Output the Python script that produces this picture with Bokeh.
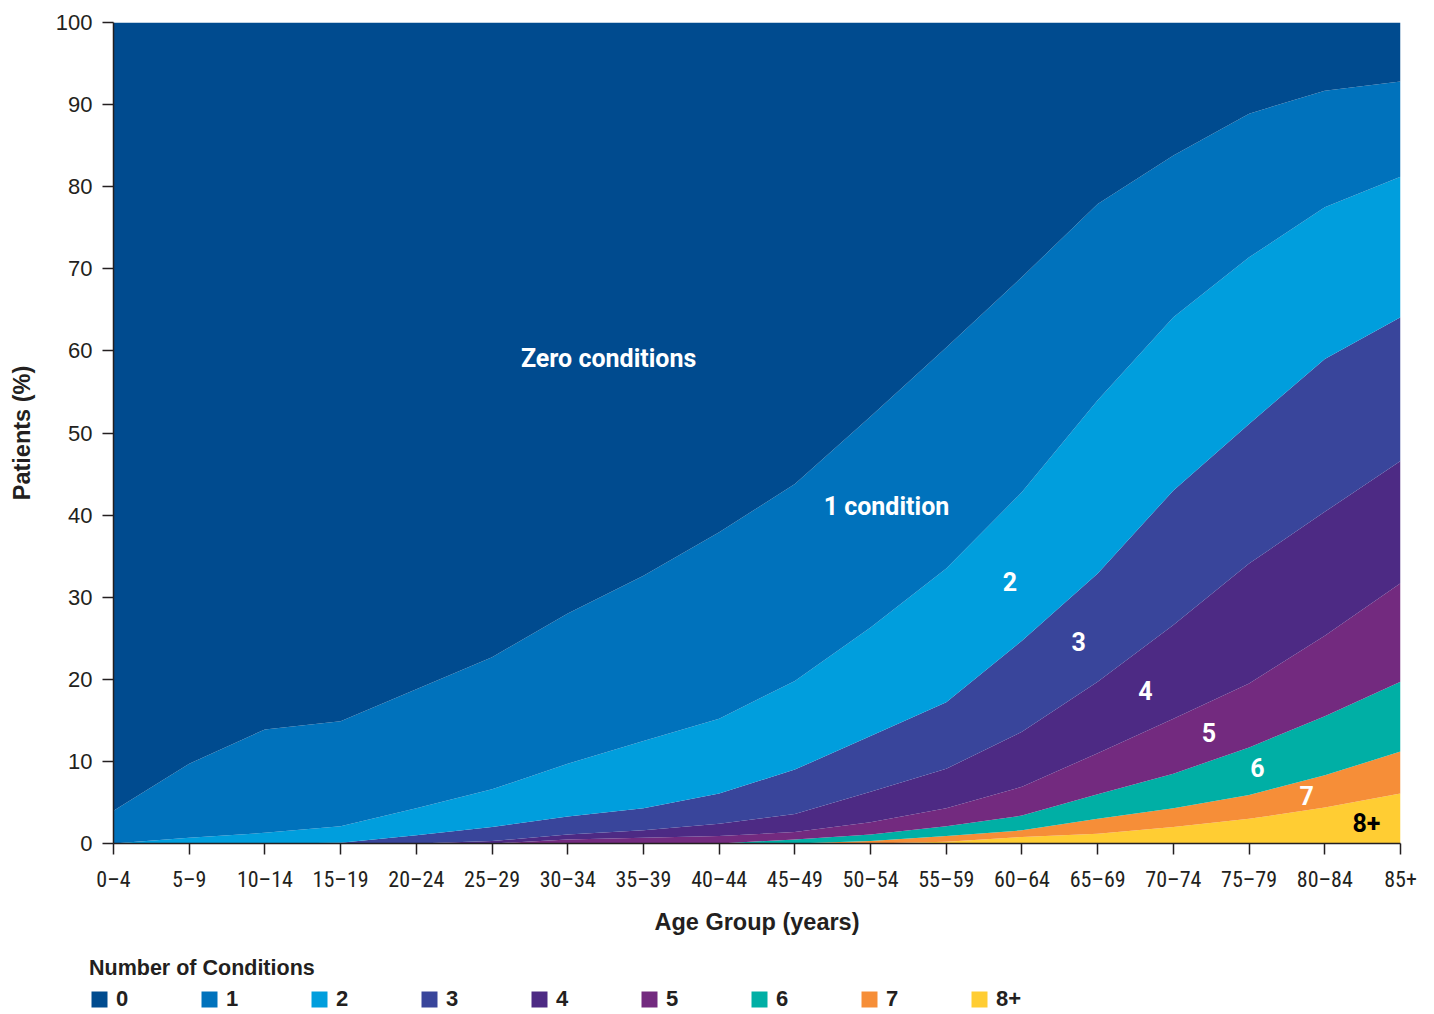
from bokeh.plotting import figure
from bokeh.models import ColumnDataSource, Legend, LegendItem, FixedTicker
from bokeh.core.properties import value
from bokeh.embed import file_html
from bokeh.resources import INLINE

# ---------------- data ----------------
age_groups = ["0–4", "5–9", "10–14", "15–19", "20–24", "25–29", "30–34", "35–39",
              "40–44", "45–49", "50–54", "55–59", "60–64", "65–69", "70–74",
              "75–79", "80–84", "85+"]

# share of patients (%) with each number of conditions, per age group
cond_0 = [96.0, 90.3, 86.1, 85.1, 81.2, 77.3, 72.0, 67.4, 62.1, 56.2, 48.0, 39.6, 31.0, 22.1, 16.2, 11.1, 8.3, 7.2]
cond_1 = [4.0, 9.0, 12.6, 12.8, 14.5, 16.1, 18.3, 20.1, 22.7, 24.0, 25.7, 26.9, 26.2, 23.9, 19.7, 17.5, 14.2, 11.6]
cond_2 = [0.0, 0.7, 1.3, 2.0, 3.3, 4.6, 6.4, 8.2, 9.1, 10.8, 13.2, 16.3, 18.1, 21.1, 21.1, 20.3, 18.5, 17.1]
cond_3 = [0.0, 0.0, 0.0, 0.1, 1.0, 1.7, 2.2, 2.7, 3.7, 5.4, 6.8, 8.1, 11.1, 13.2, 16.4, 17.0, 18.6, 17.5]
cond_4 = [0.0, 0.0, 0.0, 0.0, 0.0, 0.3, 0.6, 0.9, 1.5, 2.2, 3.7, 4.8, 6.7, 8.7, 11.4, 14.6, 15.1, 14.9]
cond_5 = [0.0, 0.0, 0.0, 0.0, 0.0, 0.0, 0.5, 0.7, 0.9, 0.9, 1.5, 2.2, 3.5, 5.0, 6.7, 7.8, 9.8, 12.0]
cond_6 = [0.0, 0.0, 0.0, 0.0, 0.0, 0.0, 0.0, 0.0, 0.0, 0.5, 0.8, 1.2, 1.8, 3.0, 4.2, 5.8, 7.2, 8.5]
cond_7 = [0.0, 0.0, 0.0, 0.0, 0.0, 0.0, 0.0, 0.0, 0.0, 0.0, 0.3, 0.7, 0.8, 1.8, 2.3, 2.9, 3.9, 5.1]
cond_8p = [0.0, 0.0, 0.0, 0.0, 0.0, 0.0, 0.0, 0.0, 0.0, 0.0, 0.0, 0.2, 0.8, 1.2, 2.0, 3.0, 4.4, 6.1]

series_names = ["0", "1", "2", "3", "4", "5", "6", "7", "8+"]
series_values = [cond_0, cond_1, cond_2, cond_3, cond_4, cond_5, cond_6, cond_7, cond_8p]
colors = ["#004b8f", "#0072bc", "#009edd", "#39459b", "#4d2a84",
          "#732a7f", "#00afa5", "#f68e38", "#ffcd33"]

y_ticks = [0, 10, 20, 30, 40, 50, 60, 70, 80, 90, 100]

# in-chart labels
label_text = ["Zero conditions", "1 condition", "2", "3", "4", "5", "6", "7", "8+"]
label_x = [6.54, 10.21, 11.84, 12.75, 13.63, 14.47, 15.11, 15.76, 16.55]
label_y = [59.1, 41.0, 31.9, 24.6, 18.6, 13.5, 9.3, 5.85, 2.6]
label_color = ["white"] * 8 + ["black"]

# ---------------- plot ----------------
FONT = "'Liberation Sans', Arial, sans-serif"
NARROW = "'Liberation Sans Narrow', 'Roboto Condensed', 'DejaVu Sans Condensed', 'Liberation Sans'"
INK = "#231f20"

data = {"x": list(range(len(age_groups)))}
keys = []
for name, vals in zip(series_names, series_values):
    k = "c" + name.replace("+", "p")
    data[k] = vals
    keys.append(k)
src = ColumnDataSource(data)
stack_keys = keys[::-1]
stack_colors = colors[::-1]

p = figure(width=1426, height=938, x_range=(0, 17), y_range=(0, 100),
           output_backend="svg", toolbar_location=None,
           min_border_left=113, min_border_right=26, min_border_top=22,
           min_border_bottom=95)
p.grid.visible = False
p.outline_line_color = None

p.varea_stack(stackers=stack_keys, x="x", color=stack_colors, source=src)

lsrc = ColumnDataSource(dict(x=label_x, y=label_y, text=label_text, color=label_color))
p.text(x="x", y="y", text="text", text_color="color", source=lsrc,
       text_font=value("Roboto"), text_font_style="bold", text_font_size="25px",
       text_align="center", text_baseline="middle")

# axes
xa = p.xaxis[0]
xa.ticker = FixedTicker(ticks=list(range(len(age_groups))))
xa.major_label_overrides = {i: lab for i, lab in enumerate(age_groups)}
xa.major_label_text_font = NARROW
xa.major_label_text_font_size = "22px"
xa.major_label_text_color = INK
xa.major_label_standoff = 12
xa.major_tick_in = 0
xa.major_tick_out = 11
xa.minor_tick_line_color = None
xa.axis_line_color = INK
xa.axis_line_width = 1.5
xa.major_tick_line_color = INK
xa.major_tick_line_width = 1.5
xa.axis_label = "Age Group (years)"
xa.axis_label_text_font = FONT
xa.axis_label_text_font_style = "bold"
xa.axis_label_text_font_size = "23.5px"
xa.axis_label_text_color = INK
xa.axis_label_standoff = 14

ya = p.yaxis[0]
ya.ticker = FixedTicker(ticks=y_ticks)
ya.major_label_text_font = FONT
ya.major_label_text_font_size = "22px"
ya.major_label_text_color = INK
ya.major_label_standoff = 10
ya.major_tick_in = 0
ya.major_tick_out = 11
ya.minor_tick_line_color = None
ya.axis_line_color = INK
ya.axis_line_width = 1.5
ya.major_tick_line_color = INK
ya.major_tick_line_width = 1.5
ya.axis_label = "Patients (%)"
ya.axis_label_text_font = FONT
ya.axis_label_text_font_style = "bold"
ya.axis_label_text_font_size = "23.5px"
ya.axis_label_text_color = INK
ya.axis_label_standoff = 18

# legend (separate strip below the chart); the areas here fall outside its
# visible range and only serve as legend swatches
p2 = figure(width=1426, height=76, x_range=(0, 17), y_range=(-2, -1),
            output_backend="svg", toolbar_location=None, min_border=0)
p2.axis.visible = False
p2.grid.visible = False
p2.outline_line_color = None
proxy = p2.varea_stack(stackers=stack_keys, x="x", color=stack_colors, source=src)
proxy_by_key = dict(zip(stack_keys, proxy))
items = [LegendItem(label=name, renderers=[proxy_by_key[k]])
         for name, k in zip(series_names, keys)]
legend = Legend(items=items, orientation="horizontal", location=(89, 2),
                title="Number of Conditions")
legend.title_text_font = FONT
legend.title_text_font_style = "bold"
legend.title_text_font_size = "21.5px"
legend.title_text_color = INK
legend.title_standoff = 5
legend.label_text_font = FONT
legend.label_text_font_style = "bold"
legend.label_text_font_size = "22px"
legend.label_text_color = INK
legend.glyph_width = 20
legend.glyph_height = 20
legend.label_standoff = 7
legend.label_width = 73
legend.label_height = 20
legend.spacing = 10
legend.padding = 0
legend.margin = 0
legend.border_line_color = None
legend.background_fill_alpha = 0
p2.add_layout(legend)

open("out.html", "w").write(file_html([p, p2], INLINE))
